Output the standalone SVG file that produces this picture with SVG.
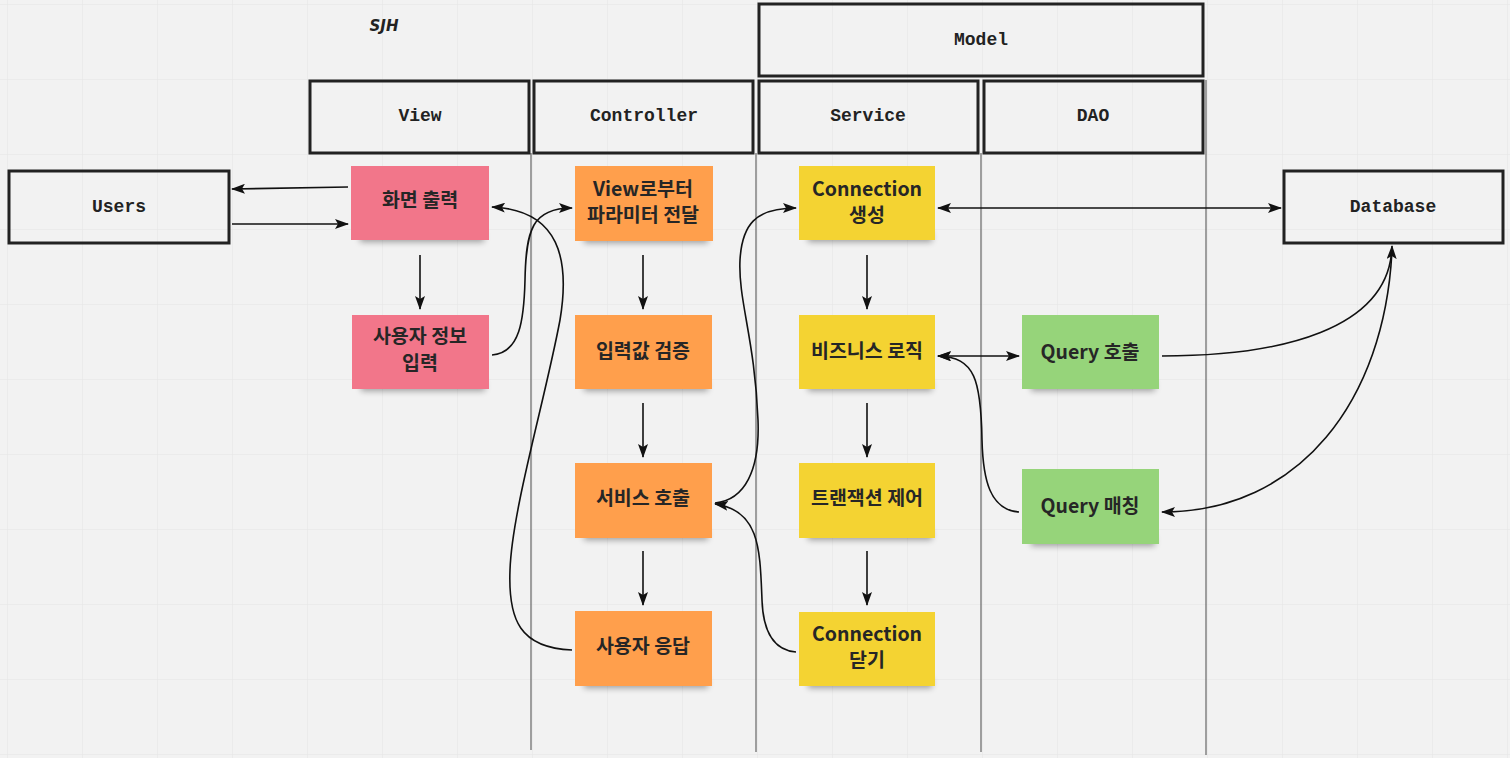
<svg xmlns="http://www.w3.org/2000/svg" width="1510" height="758" viewBox="0 0 1510 758">
  <defs>
    <pattern id="grid" x="7" y="4" width="75" height="75" patternUnits="userSpaceOnUse">
      <path d="M0,0 L75,0 M0,0 L0,75" fill="none" stroke="#e3e3e3" stroke-width="1"/>
    </pattern>
    <marker id="ah" viewBox="0 0 14 10" refX="13" refY="5" markerWidth="14" markerHeight="10" markerUnits="userSpaceOnUse" orient="auto-start-reverse">
      <path d="M0,0 L14,5 L0,10 L3,5 z" fill="#111"/>
    </marker>
    <filter id="soft" x="-20%" y="-100%" width="140%" height="300%">
      <feGaussianBlur stdDeviation="3"/>
    </filter>
  </defs>
  <style>
    .hdr { fill: none; stroke: #222; stroke-width: 3; }
    .hdr-t { font-family: "Liberation Mono", "DejaVu Sans Mono", monospace; font-weight: 700; font-size: 18px; fill: #222; text-anchor: middle; dominant-baseline: central; }
    .lane { stroke: #666; stroke-width: 1.2; }
    .shadow { fill: #000; opacity: 0.35; filter: url(#soft); }
    .pink { fill: #f2768a; }
    .orange { fill: #ff9f4c; }
    .yellow { fill: #f4d332; }
    .green { fill: #96d47a; }
    .nt { font-family: "Noto Sans CJK KR", "Noto Sans", sans-serif; font-weight: 700; font-size: 19.5px; fill: #262626; text-anchor: middle; dominant-baseline: central; }
    .conn path { fill: none; stroke: #111; stroke-width: 1.6; }
  </style>

  <!-- canvas and grid -->
  <rect width="1510" height="758" fill="#f2f2f2"/>
  <rect width="1510" height="758" fill="url(#grid)"/>

  <text x="384" y="26" font-family="DejaVu Sans, sans-serif" font-style="italic" font-weight="700" font-size="15" fill="#222" text-anchor="middle" dominant-baseline="central">SJH</text>

  <!-- lane separators -->
  <g id="lanes">
    <line class="lane" x1="531" y1="153" x2="531" y2="750"/>
    <line class="lane" x1="756" y1="153" x2="756" y2="752"/>
    <line class="lane" x1="981" y1="153" x2="981" y2="752"/>
    <line class="lane" x1="1206" y1="80" x2="1206" y2="755"/>
  </g>

  <!-- headers -->
  <g id="model"><rect class="hdr" x="759" y="4" width="444" height="72"/><text class="hdr-t" x="981" y="40">Model</text></g>
  <g id="view"><rect class="hdr" x="310" y="81" width="219" height="72"/><text class="hdr-t" x="420" y="116">View</text></g>
  <g id="controller"><rect class="hdr" x="534" y="81" width="219" height="72"/><text class="hdr-t" x="644" y="116">Controller</text></g>
  <g id="service"><rect class="hdr" x="759" y="81" width="219" height="72"/><text class="hdr-t" x="868" y="116">Service</text></g>
  <g id="dao"><rect class="hdr" x="984" y="81" width="219" height="72"/><text class="hdr-t" x="1093" y="116">DAO</text></g>
  <g id="users"><rect class="hdr" x="9" y="171" width="220" height="72"/><text class="hdr-t" x="119" y="207">Users</text></g>
  <g id="database"><rect class="hdr" x="1284" y="171" width="219" height="72"/><text class="hdr-t" x="1393" y="207">Database</text></g>

  <!-- View lane notes -->
  <g id="screen-output">
    <rect class="shadow" x="360" y="232" width="124" height="10"/>
    <rect class="pink" x="351" y="166" width="138" height="74"/>
    <text class="nt" x="420" y="198">화면 출력</text>
  </g>
  <g id="user-input">
    <rect class="shadow" x="361" y="381" width="124" height="10"/>
    <rect class="pink" x="352" y="315" width="137" height="74"/>
    <text class="nt" x="420" y="334">사용자 정보</text>
    <text class="nt" x="420" y="361">입력</text>
  </g>

  <!-- Controller lane notes -->
  <g id="param-pass">
    <rect class="shadow" x="584" y="233" width="124" height="10"/>
    <rect class="orange" x="575" y="166" width="138" height="75"/>
    <text class="nt" x="643" y="187">View로부터</text>
    <text class="nt" x="643" y="213">파라미터 전달</text>
  </g>
  <g id="validate">
    <rect class="shadow" x="584" y="381" width="124" height="10"/>
    <rect class="orange" x="575" y="315" width="137" height="74"/>
    <text class="nt" x="643" y="349">입력값 검증</text>
  </g>
  <g id="call-service">
    <rect class="shadow" x="584" y="530" width="124" height="10"/>
    <rect class="orange" x="575" y="463" width="137" height="75"/>
    <text class="nt" x="643" y="496">서비스 호출</text>
  </g>
  <g id="user-response">
    <rect class="shadow" x="584" y="678" width="124" height="10"/>
    <rect class="orange" x="575" y="611" width="137" height="75"/>
    <text class="nt" x="643" y="644">사용자 응답</text>
  </g>

  <!-- Service lane notes -->
  <g id="conn-open">
    <rect class="shadow" x="808" y="232" width="124" height="10"/>
    <rect class="yellow" x="799" y="166" width="136" height="74"/>
    <text class="nt" x="867" y="187">Connection</text>
    <text class="nt" x="867" y="213">생성</text>
  </g>
  <g id="business-logic">
    <rect class="shadow" x="808" y="381" width="124" height="10"/>
    <rect class="yellow" x="799" y="315" width="136" height="74"/>
    <text class="nt" x="867" y="349">비즈니스 로직</text>
  </g>
  <g id="transaction">
    <rect class="shadow" x="808" y="530" width="124" height="10"/>
    <rect class="yellow" x="799" y="463" width="136" height="75"/>
    <text class="nt" x="867" y="496">트랜잭션 제어</text>
  </g>
  <g id="conn-close">
    <rect class="shadow" x="808" y="678" width="124" height="10"/>
    <rect class="yellow" x="799" y="612" width="136" height="74"/>
    <text class="nt" x="867" y="632">Connection</text>
    <text class="nt" x="867" y="658">닫기</text>
  </g>

  <!-- DAO lane notes -->
  <g id="query-call">
    <rect class="shadow" x="1031" y="381" width="124" height="10"/>
    <rect class="green" x="1022" y="315" width="137" height="74"/>
    <text class="nt" x="1090" y="350">Query 호출</text>
  </g>
  <g id="query-match">
    <rect class="shadow" x="1031" y="536" width="124" height="10"/>
    <rect class="green" x="1022" y="469" width="137" height="75"/>
    <text class="nt" x="1090" y="504">Query 매칭</text>
  </g>

  <!-- connectors -->
  <g id="connectors" class="conn">
    <path d="M348,187 L232,189" marker-end="url(#ah)"/>
    <path d="M232,224 L348,224" marker-end="url(#ah)"/>
    <path d="M420,255 L420,309" marker-end="url(#ah)"/>
    <path d="M492,355 C520,353 524,320 525,280 C526,230 532,208 572,208" marker-end="url(#ah)"/>
    <path d="M572,650 C520,648 508,620 510,570 C512,510 545,400 560,320 C570,260 560,210 492,207" marker-end="url(#ah)"/>
    <path d="M643,255 L643,309" marker-end="url(#ah)"/>
    <path d="M643,403 L643,457" marker-end="url(#ah)"/>
    <path d="M643,551 L643,605" marker-end="url(#ah)"/>
    <path d="M715,503 C745,500 760,470 758,420 C755,340 738,300 740,260 C742,225 755,208 796,208" marker-end="url(#ah)"/>
    <path d="M796,652 C772,650 763,630 762,600 C760,550 760,510 715,504" marker-end="url(#ah)"/>
    <path d="M938,208 L1281,208" marker-start="url(#ah)" marker-end="url(#ah)"/>
    <path d="M867,255 L867,309" marker-end="url(#ah)"/>
    <path d="M867,403 L867,457" marker-end="url(#ah)"/>
    <path d="M867,551 L867,605" marker-end="url(#ah)"/>
    <path d="M938,356 L1019,356" marker-start="url(#ah)" marker-end="url(#ah)"/>
    <path d="M1019,512 C990,510 983,480 982,440 C981,380 975,357 938,356" marker-end="url(#ah)"/>
    <path d="M1162,356 C1280,356 1390,330 1392,246" marker-end="url(#ah)"/>
    <path d="M1392,250 C1385,400 1300,512 1162,512" marker-end="url(#ah)"/>
  </g>
</svg>
